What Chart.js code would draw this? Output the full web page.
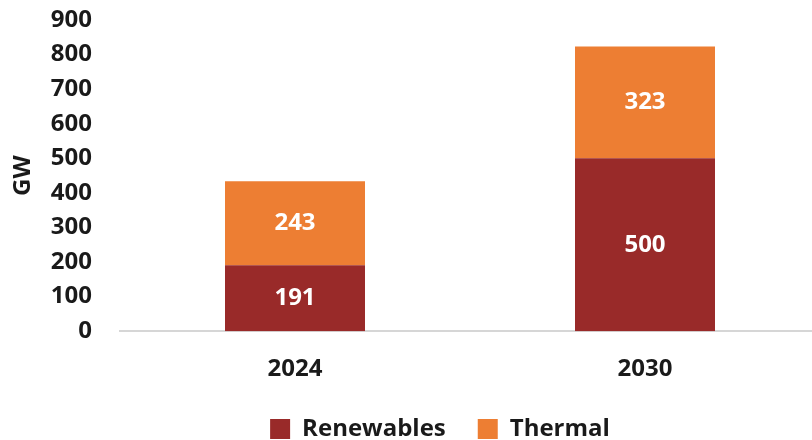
<!DOCTYPE html>
<html>
<head>
<meta charset="utf-8">
<script src="https://cdn.jsdelivr.net/npm/chart.js@4"></script>
<style>
  html, body { margin: 0; padding: 0; background: #fff; overflow: hidden; }
  #wrap { width: 820px; height: 440px; }
</style>
</head>
<body>
<div id="wrap"><canvas id="capacity-chart"></canvas></div>
<script>
const years = ['2024', '2030'];
const renewables = [191, 500];
const thermal = [243, 323];
const yTicks = [0, 100, 200, 300, 400, 500, 600, 700, 800, 900];

const FONT = '"Open Sans", Lato, sans-serif';
const SIZE = 24;

// write each segment's value in the middle of its bar
const barValues = {
  id: 'barValues',
  afterDatasetsDraw(chart) {
    const ctx = chart.ctx;
    ctx.save();
    ctx.fillStyle = '#ffffff';
    ctx.font = 'bold ' + SIZE + 'px ' + FONT;
    ctx.textAlign = 'center';
    ctx.textBaseline = 'middle';
    chart.data.datasets.forEach((ds, i) => {
      chart.getDatasetMeta(i).data.forEach((bar, j) => {
        const mid = (bar.y + bar.base) / 2;
        ctx.fillText(ds.data[j], bar.x, mid);
      });
    });
    ctx.restore();
  }
};

// nudge the legend a bit to the right
const legendShift = {
  id: 'legendShift',
  afterLayout(chart) {
    chart.legend.left += 30;
    chart.legend.right += 30;
  }
};

new Chart(document.querySelector('#capacity-chart'), {
  type: 'bar',
  data: {
    labels: years,
    datasets: [
      {
        label: 'Renewables',
        data: renewables,
        backgroundColor: '#992a29'
      },
      {
        label: 'Thermal',
        data: thermal,
        backgroundColor: '#ed7e33'
      }
    ]
  },
  options: {
    responsive: true,
    maintainAspectRatio: false,
    animation: false,
    barPercentage: 0.4,
    categoryPercentage: 1.0,
    layout: {
      padding: { left: 0, right: 0, top: 20, bottom: -11 }
    },
    scales: {
      x: {
        stacked: true,
        afterFit: axis => {
          // let the legend sit closer to the year labels
          axis.height = axis.height - 23;
        },
        grid: { display: false, drawTicks: false },
        border: { display: true, color: '#d6d6d6', width: 2 },
        ticks: {
          color: '#1a1a1a',
          font: { family: FONT, size: SIZE, weight: 'bold' },
          padding: 24
        }
      },
      y: {
        stacked: true,
        min: 0,
        max: 900,
        afterBuildTicks: axis => {
          axis.ticks = yTicks.map(v => ({ value: v }));
        },
        afterFit: axis => {
          axis.width = 120;
        },
        // invisible tick length keeps the labels off the bars without padding the top
        grid: { display: false, drawTicks: true, tickLength: 24 },
        border: { display: false },
        ticks: {
          autoSkip: false,
          color: '#1a1a1a',
          font: { family: FONT, size: SIZE, weight: 'bold' },
          padding: 4
        },
        title: {
          display: true,
          text: 'GW',
          color: '#1a1a1a',
          font: { family: FONT, size: SIZE, weight: 'bold' },
          padding: { top: 9, bottom: 0 }
        }
      }
    },
    plugins: {
      legend: {
        position: 'bottom',
        labels: {
          color: '#1a1a1a',
          font: { family: FONT, size: SIZE, weight: 'bold' },
          boxWidth: 20,
          boxHeight: 20,
          padding: 32
        }
      },
      tooltip: { enabled: false }
    }
  },
  plugins: [barValues, legendShift]
});
</script>
</body>
</html>
